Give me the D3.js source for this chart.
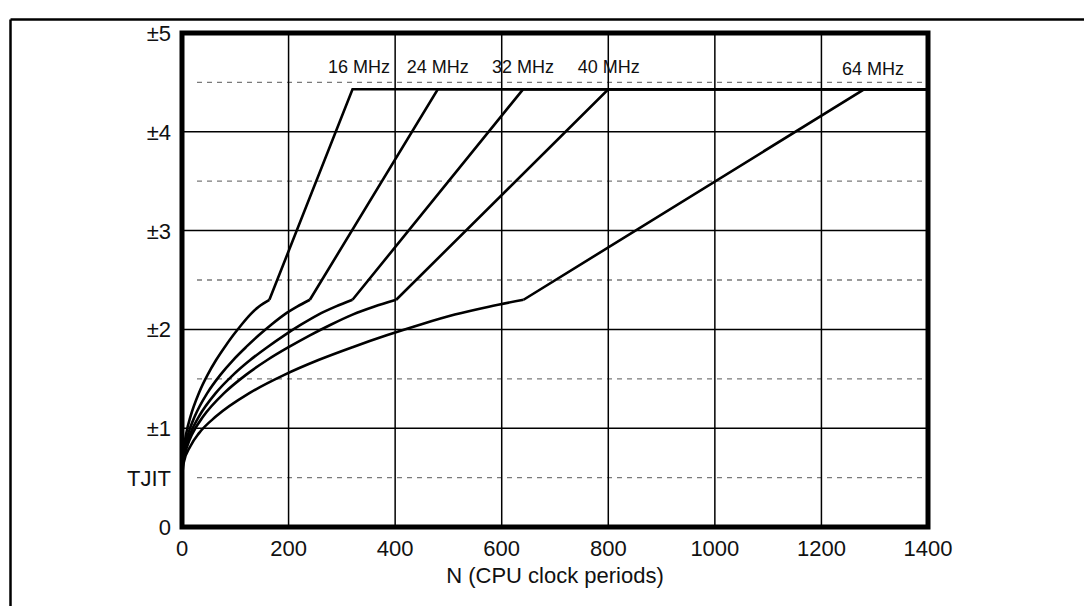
<!doctype html>
<html>
<head>
    <meta charset="UTF-8">
    <title>PLL jitter</title>
    <script src="https://d3js.org/d3.v7.min.js"></script>
    <style>
        body{ margin:0; background:#fff; }
        text{ font-family: "Liberation Sans", Arial, sans-serif; fill:#111; }
    </style>
</head>
<body>
  <svg width="1084" height="606" id="svg1"></svg>
   <script>
    // series labels
    var freqs = ["16 MHz", "24 MHz", "32 MHz", "40 MHz", "64 MHz"];
    // N (clock periods), the kink is at index 13
    var n16 = [0, 1, 4, 8, 16, 32, 48, 64, 80, 96, 112, 128, 144, 164, 320, 1400];
    var n24 = [0, 1.2, 6, 12, 24, 48, 72, 96, 120, 144, 168, 192, 216, 240, 480, 1400];
    var n32 = [0, 1.6, 8, 16, 32, 64, 96, 128, 160, 192, 224, 256, 288, 320, 640, 1400];
    var n40 = [0, 2, 10, 20, 40, 80, 120, 160, 200, 240, 280, 320, 360, 402, 800, 1400];
    var n64 = [0, 3.2, 16, 32, 64, 128, 192, 256, 320, 384, 448, 512, 576, 641, 1280, 1400];
    // jitter values (same shape for every curve when read against N/f)
    var v16 = [0.5, 0.65, 0.82, 0.95, 1.12, 1.36, 1.54, 1.69, 1.82, 1.94, 2.05, 2.15, 2.23, 2.3, 4.43, 4.43];
    var v24 = [0.5, 0.65, 0.82, 0.95, 1.12, 1.36, 1.54, 1.69, 1.82, 1.94, 2.05, 2.15, 2.23, 2.3, 4.43, 4.43];
    var v32 = [0.5, 0.65, 0.82, 0.95, 1.12, 1.36, 1.54, 1.69, 1.82, 1.94, 2.05, 2.15, 2.23, 2.3, 4.43, 4.43];
    var v40 = [0.5, 0.65, 0.82, 0.95, 1.12, 1.36, 1.54, 1.69, 1.82, 1.94, 2.05, 2.15, 2.23, 2.3, 4.43, 4.43];
    var v64 = [0.5, 0.65, 0.82, 0.95, 1.12, 1.36, 1.54, 1.69, 1.82, 1.94, 2.05, 2.15, 2.23, 2.3, 4.43, 4.43];
    // label anchors (N where each label is centred)
    var labelN = [332, 480, 640, 801, 1297];

    var xTicks = [0, 200, 400, 600, 800, 1000, 1200, 1400];
    var yTicks = [0, 0.5, 1, 2, 3, 4, 5];
    var yTickLabels = ["0", "TJIT", "±1", "±2", "±3", "±4", "±5"];
    var dashed = [0.5, 1.5, 2.5, 3.5, 4.5];
    var solid = [1, 2, 3, 4];

    var kink = 13;
    var series = [
        {name: freqs[0], n: n16, v: v16},
        {name: freqs[1], n: n24, v: v24},
        {name: freqs[2], n: n32, v: v32},
        {name: freqs[3], n: n40, v: v40},
        {name: freqs[4], n: n64, v: v64}
    ];

    var pLeft = 182, pRight = 928, pTop = 33, pBottom = 527;
    var x = d3.scaleLinear().domain([0, 1400]).range([pLeft, pRight]);
    var y = d3.scaleLinear().domain([0, 5]).range([pBottom, pTop]);

    var svg = d3.select("#svg1");

    // outer figure frame (only top and left are in view)
    svg.append("line").attr("x1", 10.5).attr("y1", 19.5).attr("x2", 1084).attr("y2", 19.5)
        .attr("stroke", "#000").attr("stroke-width", 2.5);
    svg.append("line").attr("x1", 10.5).attr("y1", 19.5).attr("x2", 10.5).attr("y2", 606)
        .attr("stroke", "#000").attr("stroke-width", 2.5);

    // dashed half-step lines
    svg.append("g").selectAll("line").data(dashed).enter().append("line")
        .attr("x1", 197).attr("x2", pRight - 3)
        .attr("y1", function(d){ return y(d); })
        .attr("y2", function(d){ return y(d); })
        .attr("stroke", "#7a7a7a").attr("stroke-width", 1.3)
        .attr("stroke-dasharray", "5,5");

    // solid grid
    svg.append("g").selectAll("line").data(solid).enter().append("line")
        .attr("x1", pLeft).attr("x2", pRight)
        .attr("y1", function(d){ return y(d); })
        .attr("y2", function(d){ return y(d); })
        .attr("stroke", "#000").attr("stroke-width", 1.5);
    svg.append("g").selectAll("line").data(xTicks.slice(1, -1)).enter().append("line")
        .attr("y1", pTop).attr("y2", pBottom)
        .attr("x1", function(d){ return x(d); })
        .attr("x2", function(d){ return x(d); })
        .attr("stroke", "#000").attr("stroke-width", 1.5);

    // curves: smooth part then straight part
    var smooth = d3.line()
        .x(function(d){ return x(d[0]); })
        .y(function(d){ return y(d[1]); })
        .curve(d3.curveMonotoneX);
    var straight = d3.line()
        .x(function(d){ return x(d[0]); })
        .y(function(d){ return y(d[1]); });

    series.forEach(function(s){
        var pts = s.n.map(function(n, i){ return [n, s.v[i]]; });
        svg.append("path").attr("d", smooth(pts.slice(0, kink + 1)))
            .attr("fill", "none").attr("stroke", "#000").attr("stroke-width", 2.6);
        svg.append("path").attr("d", straight(pts.slice(kink)))
            .attr("fill", "none").attr("stroke", "#000").attr("stroke-width", 2.6)
            .attr("stroke-linejoin", "miter");
    });

    // plot border
    svg.append("rect").attr("x", pLeft).attr("y", pTop)
        .attr("width", pRight - pLeft).attr("height", pBottom - pTop)
        .attr("fill", "none").attr("stroke", "#000").attr("stroke-width", 5);

    // series labels
    svg.append("g").selectAll("text").data(series).enter().append("text")
        .attr("x", function(d, i){ return x(labelN[i]); })
        .attr("y", function(d, i){ return i == 4 ? 75 : 73; })
        .attr("text-anchor", "middle")
        .attr("font-size", 18)
        .text(function(d){ return d.name; });

    // axes labels
    svg.append("g").selectAll("text").data(yTicks).enter().append("text")
        .attr("x", 171)
        .attr("y", function(d){ return y(d); })
        .attr("dy", "0.36em")
        .attr("text-anchor", "end")
        .attr("font-size", 22)
        .text(function(d, i){ return yTickLabels[i]; });
    svg.append("g").selectAll("text").data(xTicks).enter().append("text")
        .attr("x", function(d){ return x(d); })
        .attr("y", 556)
        .attr("text-anchor", "middle")
        .attr("font-size", 22)
        .text(function(d){ return d; });
    svg.append("text").attr("x", (pLeft + pRight) / 2).attr("y", 583)
        .attr("text-anchor", "middle").attr("font-size", 22)
        .text("N (CPU clock periods)");
   </script>
</body>
</html>
